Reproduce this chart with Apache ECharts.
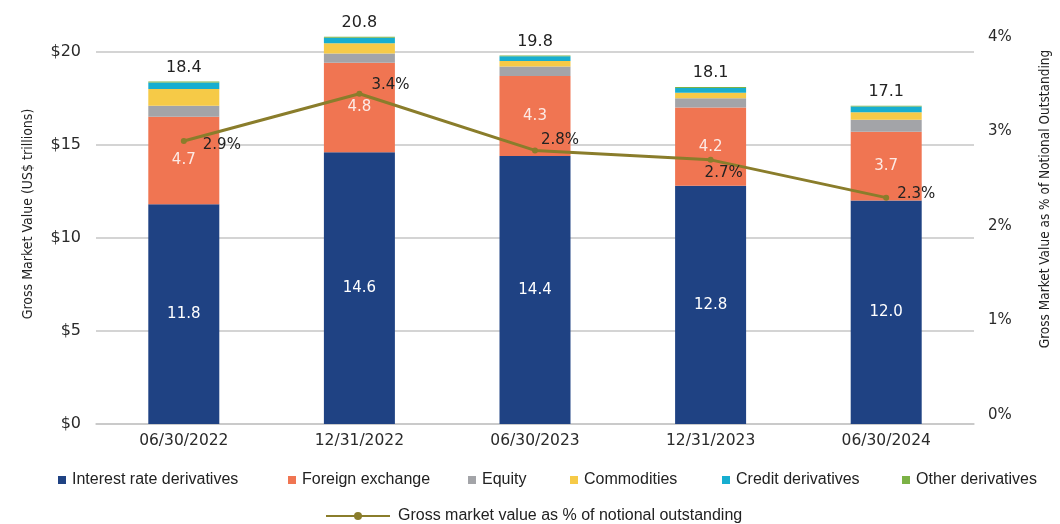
<!DOCTYPE html>
<html>
<head>
<meta charset="utf-8">
<script src="https://cdn.jsdelivr.net/npm/echarts@6/dist/echarts.min.js"></script>
<style>
  html, body { margin: 0; padding: 0; background: #fff; }
  #chart { width: 1060px; height: 524px; }
</style>
</head>
<body>
<div id="chart"></div>
<script>
// data
const categories = ['06/30/2022', '12/31/2022', '06/30/2023', '12/31/2023', '06/30/2024']
const interestRate = [11.8, 14.6, 14.4, 12.8, 12.0]
const foreignExchange = [4.7, 4.8, 4.3, 4.2, 3.7]
const equity = [0.6, 0.5, 0.5, 0.5, 0.65]
const commodities = [0.9, 0.55, 0.3, 0.3, 0.4]
const credit = [0.35, 0.3, 0.25, 0.25, 0.3]
const other = [0.05, 0.05, 0.05, 0.05, 0.05]
const totals = [18.4, 20.8, 19.8, 18.1, 17.1]
const pctOfNotional = [2.9, 3.4, 2.8, 2.7, 2.3]

const numFont = 'DejaVu Sans'
const textFont = 'Liberation Sans'

// where each % label sits relative to its point
const pctLabelOffsets = [[11, 4], [4, -9], [-2, -10], [-14, 13], [3, -4]]

const chart = echarts.init(document.getElementById('chart'), null, { renderer: 'canvas' })

function barSeries(name, data, color, label) {
  return {
    name: name,
    type: 'bar',
    stack: 'gmv',
    barWidth: 71,
    clip: false,
    data: data,
    itemStyle: { color: color },
    label: label || { show: false },
    emphasis: { disabled: true }
  }
}

function legendAt(name, left, top) {
  return {
    data: [name],
    left: left,
    top: top,
    padding: 0,
    icon: 'rect',
    itemWidth: 8,
    itemHeight: 8,
    itemGap: 0,
    selectedMode: false,
    textStyle: { fontFamily: textFont, fontSize: 16, color: '#222', padding: [0, 0, 0, 1] }
  }
}

chart.setOption({
  animation: false,
  backgroundColor: '#fff',
  grid: [
    { left: 96, right: 86, top: 51.7, bottom: 100 },
    { left: 96, right: 86, top: 37, bottom: 109 }
  ],
  xAxis: [
    {
      type: 'category',
      gridIndex: 0,
      data: categories,
      axisTick: { show: false },
      axisLine: { lineStyle: { color: '#c6c6c6', width: 1.5 } },
      axisLabel: { fontFamily: numFont, fontSize: 15.5, color: '#2a2a2a', margin: 9 }
    },
    {
      type: 'category',
      gridIndex: 1,
      data: categories,
      show: false
    }
  ],
  yAxis: [
    {
      type: 'value',
      gridIndex: 0,
      min: 0,
      max: 20,
      interval: 5,
      axisLine: { show: false },
      axisTick: { show: false },
      splitLine: { lineStyle: { color: '#c6c6c6', width: 1.5 } },
      axisLabel: {
        fontFamily: numFont, fontSize: 16, color: '#2a2a2a', margin: 15,
        formatter: v => '$' + v
      }
    },
    {
      type: 'value',
      gridIndex: 1,
      position: 'right',
      min: 0,
      max: 4,
      interval: 1,
      axisLine: { show: false },
      axisTick: { show: false },
      splitLine: { show: false },
      axisLabel: {
        fontFamily: numFont, fontSize: 15, color: '#2a2a2a', margin: 14,
        padding: [0, 0, 5, 0],
        formatter: v => v + '%'
      }
    }
  ],
  legend: [
    legendAt('Interest rate derivatives', 58, 472),
    legendAt('Foreign exchange', 288, 472),
    legendAt('Equity', 468, 472),
    legendAt('Commodities', 570, 472),
    legendAt('Credit derivatives', 722, 472),
    legendAt('Other derivatives', 902, 472),
    {
      data: ['Gross market value as % of notional outstanding'],
      left: 325,
      top: 508,
      padding: 0,
      itemWidth: 64,
      itemHeight: 10,
      selectedMode: false,
      textStyle: { fontFamily: textFont, fontSize: 16, color: '#222', padding: [0, 0, 0, 3] }
    }
  ],
  graphic: [
    {
      type: 'text',
      x: 28,
      y: 214,
      rotation: Math.PI / 2,
      style: {
        text: 'Gross Market Value (US$ trillions)',
        font: 'condensed 14px "DejaVu Sans", sans-serif',
        fill: '#222',
        align: 'center',
        verticalAlign: 'middle'
      }
    },
    {
      type: 'text',
      x: 1045,
      y: 199,
      rotation: Math.PI / 2,
      style: {
        text: 'Gross Market Value as % of Notional Outstanding',
        font: 'condensed 13.5px "DejaVu Sans", sans-serif',
        fill: '#222',
        align: 'center',
        verticalAlign: 'middle'
      }
    }
  ],
  series: [
    barSeries('Interest rate derivatives', interestRate, '#1f4283', {
      show: true, position: 'inside', color: '#fff',
      fontFamily: numFont, fontSize: 15, formatter: p => p.value.toFixed(1)
    }),
    barSeries('Foreign exchange', foreignExchange, '#f07552', {
      show: true, position: 'inside', color: 'rgba(255,255,255,0.85)',
      fontFamily: numFont, fontSize: 15, formatter: p => p.value.toFixed(1)
    }),
    barSeries('Equity', equity, '#a3a4a8'),
    barSeries('Commodities', commodities, '#f6ca47'),
    barSeries('Credit derivatives', credit, '#17aed0'),
    barSeries('Other derivatives', other, '#7cb246', {
      show: true, position: 'top', distance: 6, color: '#222',
      fontFamily: numFont, fontSize: 16,
      formatter: p => totals[p.dataIndex].toFixed(1)
    }),
    {
      name: 'Gross market value as % of notional outstanding',
      type: 'line',
      xAxisIndex: 1,
      yAxisIndex: 1,
      z: 5,
      data: pctOfNotional.map((v, i) => ({
        value: v,
        label: { offset: pctLabelOffsets[i] }
      })),
      symbol: 'circle',
      symbolSize: 6,
      itemStyle: { color: '#8a7d2b' },
      lineStyle: { color: '#8a7d2b', width: 3 },
      label: {
        show: true,
        position: 'right',
        distance: 5,
        color: '#222',
        fontFamily: numFont,
        fontSize: 15,
        formatter: p => p.value.toFixed(1) + '%'
      },
      emphasis: { disabled: true }
    }
  ]
})
</script>
</body>
</html>
